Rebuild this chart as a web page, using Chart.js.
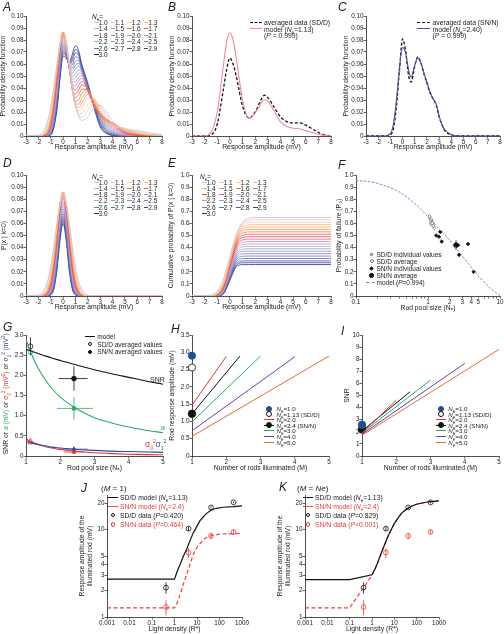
<!DOCTYPE html>
<html>
<head>
<meta charset="utf-8">
<script src="https://cdn.jsdelivr.net/npm/chart.js@4.4.1/dist/chart.umd.min.js"></script>
<style>
  body { margin: 0; width: 504px; height: 634px; position: relative; overflow: hidden; background: #fff;
         font-family: "Liberation Sans", Arial, sans-serif; color: #222; }
  canvas { position: absolute; }
  .tx { position: absolute; white-space: nowrap; font-size: 6.5px; line-height: 7px; }
  .pl { position: absolute; font-style: italic; font-size: 12px; line-height: 12px; }
  .sw { position: absolute; height: 0; }
  .mk { position: absolute; box-sizing: border-box; }
  sub, sup { line-height: 0; }
</style>
</head>
<body>
<script>
const FONT = '"Liberation Sans", Arial, sans-serif';

// ---- Nₑ family (panels A, D, E) ----
const neLabels = ['1.0','1.1','1.2','1.3','1.4','1.5','1.6','1.7','1.8','1.9','2.0','2.1','2.2','2.3','2.4','2.5','2.6','2.7','2.8','2.9','3.0'];
const neColors = ['#c6bedc','#f5c2c8','#f8cfa6','#f6b97e','#f4a45e','#f18f4a','#ec7840','#e5603f','#de4b55','#dc5f86','#de82ae',
                  '#c496c6','#a9a6d4','#999bcd','#8a8fc6','#7b83bf','#6c75b6','#5d66ab','#4d559f','#3d4493','#2c3282'];

// A: probability density function of responses
const xA = [-3,-2,-1.5,-1,-0.5,-0.25,0,0.25,0.5,0.75,1,1.25,1.5,2,2.5,3,3.5,4,5,6,7,8];
const pdfA = [
  [0,.0007,.0055,.0243,.0594,.0742,.0801,.0745,.0600,.0423,.0269,.0170,.0129,.0161,.0232,.0254,.0203,.0124,.0049,.0045,.0025,.0011],
  [0,.0004,.0041,.0217,.0588,.0754,.0822,.0759,.0599,.0410,.0259,.0175,.0154,.0215,.0276,.0255,.0171,.0096,.0057,.0043,.0018,.0009],
  [0,.0002,.0029,.0189,.0579,.0765,.0843,.0772,.0596,.0397,.0252,.0187,.0187,.0269,.0304,.0238,.0140,.0084,.0064,.0034,.0013,.0007],
  [0,.0001,.0022,.0167,.0566,.0768,.0855,.0779,.0591,.0390,.0257,.0211,.0230,.0315,.0312,.0214,.0123,.0087,.0064,.0026,.0011,.0004],
  [0,0,.0015,.0144,.0550,.0769,.0866,.0784,.0584,.0382,.0261,.0236,.0270,.0349,.0305,.0190,.0116,.0096,.0058,.0020,.0008,.0002],
  [0,0,.0011,.0126,.0532,.0763,.0868,.0782,.0575,.0376,.0271,.0264,.0310,.0372,.0293,.0174,.0119,.0105,.0051,.0017,.0006,.0001],
  [0,0,.0009,.0113,.0513,.0750,.0860,.0775,.0569,.0381,.0294,.0301,.0352,.0385,.0276,.0167,.0129,.0109,.0041,.0014,.0004,0],
  [0,0,.0007,.0100,.0494,.0735,.0853,.0768,.0566,.0389,.0320,.0343,.0391,.0390,.0260,.0169,.0138,.0106,.0033,.0011,.0002,0],
  [0,0,.0005,.0087,.0472,.0721,.0847,.0764,.0563,.0399,.0350,.0383,.0425,.0388,.0251,.0175,.0142,.0096,.0027,.0007,.0001,0],
  [0,0,.0004,.0079,.0452,.0700,.0832,.0754,.0564,.0418,.0385,.0421,.0454,.0384,.0247,.0183,.0140,.0085,.0022,.0005,0,0],
  [0,0,.0003,.0067,.0430,.0694,.0827,.0750,.0564,.0431,.0417,.0459,.0481,.0380,.0248,.0189,.0134,.0072,.0017,.0003,0,0],
  [0,0,.0002,.0059,.0412,.0675,.0812,.0741,.0566,.0455,.0451,.0492,.0501,.0378,.0255,.0194,.0123,.0061,.0013,.0002,0,0],
  [0,0,.0002,.0051,.0391,.0655,.0797,.0733,.0569,.0475,.0484,.0523,.0516,.0373,.0261,.0191,.0109,.0050,.0009,.0001,0,0],
  [0,0,.0001,.0044,.0370,.0634,.0783,.0724,.0576,.0499,.0519,.0552,.0530,.0375,.0267,.0185,.0096,.0042,.0006,0,0,0],
  [0,0,.0001,.0037,.0346,.0614,.0769,.0717,.0583,.0525,.0557,.0582,.0543,.0374,.0267,.0169,.0080,.0033,.0004,0,0,0],
  [0,0,.0001,.0030,.0323,.0592,.0753,.0707,.0587,.0550,.0590,.0607,.0553,.0379,.0270,.0155,.0065,.0025,.0002,0,0,0],
  [0,0,0,.0024,.0299,.0569,.0736,.0694,.0586,.0570,.0622,.0631,.0561,.0386,.0271,.0140,.0053,.0019,.0001,0,0,0],
  [0,0,0,.0019,.0275,.0546,.0718,.0681,.0587,.0595,.0658,.0651,.0569,.0394,.0267,.0122,.0041,.0014,.0001,0,0,0],
  [0,0,0,.0014,.0250,.0521,.0702,.0670,.0594,.0625,.0692,.0674,.0577,.0404,.0257,.0104,.0034,.0010,0,0,0,0],
  [0,0,0,.0011,.0233,.0501,.0685,.0661,.0603,.0653,.0720,.0693,.0590,.0421,.0250,.0091,.0027,.0007,0,0,0,0],
  [0,0,0,.0009,.0214,.0479,.0666,.0650,.0611,.0683,.0753,.0712,.0604,.0441,.0239,.0075,.0021,.0005,0,0,0,0]
];

// D: failure distribution P(x | k=0)
const xD = [-3,-2,-1.5,-1.25,-1,-0.75,-0.5,-0.25,0,0.25,0.5,0.75,1,1.25,1.5,2,3,8];
const pdfD = [
  [0,.0007,.0055,.0125,.0243,.0410,.0594,.0742,.0800,.0742,.0594,.0410,.0243,.0125,.0055,.0007,0,0],
  [0,.0004,.0041,.0103,.0217,.0388,.0588,.0754,.0820,.0754,.0588,.0388,.0217,.0103,.0041,.0004,0,0],
  [0,.0002,.0029,.0082,.0189,.0363,.0579,.0765,.0840,.0765,.0579,.0363,.0189,.0082,.0029,.0002,0,0],
  [0,.0001,.0022,.0067,.0167,.0340,.0566,.0768,.0850,.0768,.0566,.0340,.0167,.0067,.0022,.0001,0,0],
  [0,0,.0015,.0053,.0144,.0315,.0550,.0769,.0860,.0769,.0550,.0315,.0144,.0053,.0015,0,0,0],
  [0,0,.0011,.0043,.0126,.0292,.0532,.0763,.0860,.0763,.0532,.0292,.0126,.0043,.0011,0,0,0],
  [0,0,.0009,.0036,.0113,.0274,.0513,.0750,.0850,.0750,.0513,.0274,.0113,.0036,.0009,0,0,0],
  [0,0,.0007,.0030,.0100,.0254,.0494,.0735,.0840,.0735,.0494,.0254,.0100,.0030,.0007,0,0,0],
  [0,0,.0005,.0025,.0087,.0233,.0472,.0721,.0830,.0721,.0472,.0233,.0087,.0025,.0005,0,0,0],
  [0,0,.0004,.0021,.0079,.0218,.0452,.0700,.0810,.0700,.0452,.0218,.0079,.0021,.0004,0,0,0],
  [0,0,.0003,.0017,.0067,.0198,.0430,.0685,.0800,.0685,.0430,.0198,.0067,.0017,.0003,0,0,0],
  [0,0,.0002,.0014,.0059,.0183,.0409,.0664,.0780,.0664,.0409,.0183,.0059,.0014,.0002,0,0,0],
  [0,0,.0002,.0011,.0051,.0166,.0387,.0642,.0760,.0642,.0387,.0166,.0051,.0011,.0002,0,0,0],
  [0,0,.0001,.0009,.0044,.0152,.0366,.0620,.0740,.0620,.0366,.0152,.0044,.0009,.0001,0,0,0],
  [0,0,.0001,.0007,.0037,.0135,.0342,.0598,.0720,.0598,.0342,.0135,.0037,.0007,.0001,0,0,0],
  [0,0,.0001,.0005,.0030,.0120,.0319,.0575,.0700,.0575,.0319,.0120,.0030,.0005,.0001,0,0,0],
  [0,0,0,.0004,.0024,.0104,.0295,.0552,.0680,.0552,.0295,.0104,.0024,.0004,0,0,0,0],
  [0,0,0,.0003,.0019,.0089,.0271,.0529,.0660,.0529,.0271,.0089,.0019,.0003,0,0,0,0],
  [0,0,0,.0002,.0014,.0075,.0246,.0504,.0640,.0504,.0246,.0075,.0014,.0002,0,0,0,0],
  [0,0,0,.0001,.0011,.0066,.0229,.0483,.0620,.0483,.0229,.0066,.0011,.0001,0,0,0,0],
  [0,0,0,.0001,.0009,.0057,.0211,.0462,.0600,.0462,.0211,.0057,.0009,.0001,0,0,0,0]
];

// E: cumulative probability of P(x | k=0)
const xE = [-3,-2,-1.5,-1,-0.5,0,0.5,1,1.5,2,8];
const cumE = [
  [0,.0007,.0068,.0399,.1430,.325,.507,.610,.643,.649,.65],
  [0,.0004,.0045,.0325,.1305,.315,.4996,.5975,.6255,.6296,.63],
  [0,.0002,.0029,.0257,.1183,.305,.4917,.5843,.6071,.6098,.61],
  [0,.0001,.0020,.0209,.1082,.295,.4818,.5691,.5880,.59,.59],
  [0,0,.0013,.0168,.0982,.285,.4718,.5532,.5687,.57,.57],
  [0,0,.0009,.0138,.0899,.275,.4601,.5363,.5491,.55,.55],
  [0,0,.0007,.0118,.0836,.265,.4464,.5182,.5293,.53,.53],
  [0,0,.0005,.0100,.0772,.255,.4328,.5000,.5095,.51,.51],
  [0,0,.0003,.0083,.0709,.245,.4191,.4817,.4897,.49,.49],
  [0,0,.0003,.0072,.0658,.235,.4042,.4628,.4697,.47,.47],
  [0,0,.0002,.0058,.0597,.225,.3903,.4442,.4498,.45,.45],
  [0,0,.0001,.0050,.0550,.215,.3750,.4250,.4299,.43,.43],
  [0,0,.0001,.0041,.0502,.205,.3598,.4059,.4099,.41,.41],
  [0,0,0,.0034,.0458,.195,.3442,.3866,.39,.39,.39],
  [0,0,0,.0027,.0411,.185,.3289,.3673,.37,.37,.37],
  [0,0,0,.0021,.0368,.175,.3132,.3479,.35,.35,.35],
  [0,0,0,.0016,.0324,.165,.2976,.3284,.33,.33,.33],
  [0,0,0,.0012,.0283,.155,.2817,.3088,.31,.31,.31],
  [0,0,0,.0008,.0243,.145,.2657,.2892,.29,.29,.29],
  [0,0,0,.0007,.0217,.1375,.2533,.2743,.275,.275,.275],
  [0,0,0,.0005,.0193,.130,.2407,.2595,.26,.26,.26]
];

// B: SD/D averaged data vs model (Ne = 1.13)
const xB = [-3,-2,-1.5,-1,-0.5,-0.25,0,0.25,0.5,1,1.5,2,2.5,2.75,3,3.5,4,4.5,5,5.5,6,6.5,7,7.5,8];
const dataB = [0,0,.001,.010,.040,.056,.065,.060,.050,.025,.015,.020,.031,.034,.032,.024,.016,.012,.011,.011,.009,.006,.003,.001,0];
const modelB = [0,0,.003,.020,.060,.079,.086,.080,.065,.030,.0145,.019,.028,.030,.029,.021,.012,.008,.0065,.006,.0045,.003,.0015,.0005,0];

// C: SN/N averaged data vs model (Ne = 2.40)
const xC = [-3,-1.5,-1,-0.75,-0.5,-0.25,0,0.25,0.5,0.7,1,1.25,1.5,1.75,2,2.25,2.5,2.75,3,3.25,3.5,4,4.5,8];
const dataC = [0,0,.001,.006,.025,.055,.081,.071,.050,.045,.058,.066,.061,.052,.044,.036,.031,.026,.016,.009,.004,.001,0,0];
const modelC = [0,0,.002,.010,.030,.057,.074,.069,.055,.049,.059,.065,.061,.053,.045,.037,.031,.027,.017,.009,.005,.001,0,0];

// F: probability of failure vs rod pool size
const fModelX = [0.1,0.15,0.2,0.3,0.4,0.5,0.7,1,1.5,2,2.5,3,4,5,6,7,8,10];
const fModelY = [0.955,0.945,0.93,0.895,0.86,0.82,0.75,0.655,0.54,0.46,0.39,0.33,0.235,0.165,0.115,0.075,0.045,0.005];
const fSdX = [1.05,1.08,1.10,1.12,1.15,1.18,1.22];
const fSdY = [0.66,0.64,0.62,0.63,0.60,0.58,0.56];
const fSdAvg = [1.13, 0.60];
const fSnX = [1.30,1.42,1.48,1.55,2.45,2.60,2.70,3.60,4.30];
const fSnY = [0.50,0.49,0.53,0.45,0.42,0.42,0.34,0.43,0.20];
const fSnAvg = [2.45, 0.42];
const fSnAvgErrX = [2.2, 2.75];
const fSnAvgErrY = 0.04;

// G: model parameters vs pool size
const gX = [1,1.25,1.5,1.75,2,2.5,3,3.5,4,4.5,5];
const gSNR = [2.65,2.57,2.50,2.43,2.37,2.25,2.14,2.04,1.95,1.86,1.78];
const gA = [2.88,2.35,1.97,1.68,1.46,1.16,0.95,0.82,0.72,0.64,0.58];
const gS0 = [0.42,0.32,0.25,0.20,0.16,0.11,0.08,0.06,0.045,0.035,0.03];
const gS1 = [0.36,0.30,0.26,0.22,0.20,0.16,0.14,0.12,0.11,0.10,0.09];
const gSdX = 1.13;
const gSdVals = [2.72, 2.58, 0.38, 0.33];   // SNR, a, σ0², σ1²
const gSdErr = [0.22, 0, 0, 0];
const gSnX = 2.4;
const gSnVals = [1.92, 1.18, 0.10, 0.17];
const gSnErrY = [0.30, 0.28, 0, 0];
const gSnErrX = [[1.95,2.8],[1.9,2.95],[2.1,2.7],[1.95,2.8]];

// H and I: response and SNR vs number of rods illuminated
const hNe = ['2.0','2.4','3.0','4.0','5.0'];
const hEndX = [2, 2.4, 3, 4, 5];
const hStartY = [1.47, 1.22, 0.99, 0.73, 0.57];
const hEndY = [2.88, 2.89, 2.89, 2.87, 2.89];
const iStartY = [1.90, 2.07, 1.90, 1.80, 1.71];
const iEndY = [4.61, 5.30, 6.27, 7.65, 8.81];
const lineColors = ['#e3342f', '#111111', '#2fa866', '#5b45a8', '#e8673a'];
const hDots = [2.90, 2.56, 1.22];   // Ne=1.0, Ne=1.13, Ne=2.4 at M=1
const iDots = [2.60, 2.54, 2.20];

// J and K: response amplitude vs light density
const jSdX = [0.001,1,1.3,1.75,2.5,3.4,5,6.8,10,13.4,20,26,40,72,150,400,1000];
const jSdY = [2.72,2.72,3.3,3.96,5.0,5.9,7.6,9.2,11.0,12.6,14.2,15.3,16.6,17.6,18.1,18.4,18.8];
const jSnX = [0.001,1,1.3,1.75,2.5,3.4,5,6.8,10,19,30,52,100,200,1000];
const jSnY = [1.27,1.27,1.45,1.78,2.4,3.04,4.1,5.17,6.3,7.7,8.3,8.66,8.9,8.97,9.07];
const kX = [0.001,0.1,1,1.4,1.88,2.6,3.7,5.2,7.4,10,14.7,22,34.5,60,97,300,1000];
const kSdY = [2.68,2.68,3.05,3.6,4.33,5.4,6.76,8.4,10.1,11.8,13.7,15.6,17.2,18.6,19.6,20.8,21.4];
const kSnY = [1.27,1.27,3.0,3.6,4.33,5.4,6.76,8.4,10.1,11.8,13.7,15.6,17.2,18.6,19.6,20.8,21.4];
const lightX = [0.42, 4.2, 42, 420];
const sdData = [2.17, 10.3, 18.0, 20.6];
const sdErr = [0.32, 0.6, 0.5, 0.5];
const snData = [1.30, 5.46, 8.5, 9.4];
const snErr = [0.26, 0.7, 0.7, 0.6];

// tick sets
const pdfXT = [-3,-2,-1,0,1,2,3,4,5,6,7,8];
const pdfYT = [0,0.01,0.02,0.03,0.04,0.05,0.06,0.07,0.08,0.09,0.1];
const pdfYL = ['0','0.01','0.02','0.03','0.04','0.05','0.06','0.07','0.08','0.09','0.10'];
const unitYT = [0,0.1,0.2,0.3,0.4,0.5,0.6,0.7,0.8,0.9,1];
const unitYL = ['0','0.1','0.2','0.3','0.4','0.5','0.6','0.7','0.8','0.9','1.0'];
const fXT = [0.1,0.2,0.3,0.4,0.5,0.6,0.7,0.8,0.9,1,2,3,4,5,6,7,8,9,10];
const fXL = ['0.1','','','','','','','','','1','2','3','4','5','','','','','10'];
const rodXT = [1,2,3,4,5];
const gYT = [0,0.5,1,1.5,2,2.5,3];
const gYL = ['0','0.5','1.0','1.5','2.0','2.5','3.0'];
const hYT = [0,0.5,1,1.5,2,2.5,3,3.5];
const hYL = ['0','0.5','1.0','1.5','2.0','2.5','3.0','3.5'];
const iYT = [0,1,2,3,4,5,6,7,8,9,10];
const jXT = [0.001,0.01,0.1,1,10,100,1000];
const jXL = ['0.001','0.01','0.1','1','10','100','1000'];
const jYT = [1,2,3,4,5,10,20];

// ---------- helpers ----------
const INK = '#222';
function axis(type, min, max, ticks, labels, title) {
  return {
    type, min, max,
    afterBuildTicks: s => { s.ticks = ticks.map(v => ({ value: v })); },
    ticks: { font: { family: FONT, size: 6.3 }, color: INK, padding: 0, maxRotation: 0, autoSkip: false,
             callback: (v, i) => labels[i] },
    grid: { drawOnChartArea: false, drawTicks: true, tickLength: 2.5, color: INK, lineWidth: 0.7 },
    border: { display: true, color: INK, width: 0.8 },
    title: title ? { display: true, text: title, font: { family: FONT, size: 6.8 }, color: INK, padding: 0 } : { display: false }
  };
}
function pts(xs, ys) { return ys.map((y, i) => ({ x: xs[i], y })); }
function mk(g, datasets, xs, ys) {
  const cv = document.createElement('canvas');
  const pt = 6, pr = 8;
  cv.width = g.R + pr - g.cl; cv.height = g.B - g.T + pt + g.xh;
  cv.style.left = g.cl + 'px'; cv.style.top = (g.T - pt) + 'px';
  document.body.appendChild(cv);
  xs.afterFit = s => { s.height = g.xh; };
  ys.afterFit = s => { s.width = g.L - g.cl; };
  return new Chart(cv, {
    type: 'line', data: { datasets },
    options: { responsive: false, animation: false, events: [],
      layout: { padding: { top: pt, right: pr, left: 0, bottom: 0 } },
      plugins: { legend: { display: false }, tooltip: { enabled: false } },
      elements: { point: { radius: 0 }, line: { borderWidth: 1 } },
      scales: { x: xs, y: ys } }
  });
}
function family(xs, rows) {
  return rows.map((ys, i) => ({ data: pts(xs, ys), borderColor: neColors[i], borderWidth: 0.8,
    cubicInterpolationMode: 'monotone', pointRadius: 0 }));
}
function line(xs, ys, color, extra) {
  return Object.assign({ data: pts(xs, ys), borderColor: color, borderWidth: 1, pointRadius: 0 }, extra || {});
}
function marks(xs, ys, style, r, fill, stroke) {
  return { data: pts(xs, ys), showLine: false, pointStyle: style, pointRadius: r, clip: false,
    pointBackgroundColor: fill, pointBorderColor: stroke, pointBorderWidth: 0.8 };
}
function vbars(xs, ys, es) {
  const out = [];
  xs.forEach((x, i) => { if (es[i] > 0) out.push({ x, y: ys[i] - es[i] }, { x, y: ys[i] + es[i] }, { x, y: null }); });
  return out;
}
function txt(x, y, html, css) {
  const d = document.createElement('div');
  d.className = 'tx'; d.style.left = x + 'px'; d.style.top = (y - 3.5) + 'px';
  d.innerHTML = html; if (css) d.style.cssText += css;
  document.body.appendChild(d); return d;
}
function swatch(x1, x2, y, color, dash, w) {
  const d = document.createElement('div'); d.className = 'sw';
  w = w || 1;
  d.style.left = x1 + 'px'; d.style.top = (y - w / 2) + 'px'; d.style.width = (x2 - x1) + 'px';
  d.style.borderTop = w + 'px ' + (dash ? 'dashed ' : 'solid ') + color;
  document.body.appendChild(d);
}
function marker(cx, cy, size, fill, stroke, shape) {
  const d = document.createElement('div'); d.className = 'mk';
  d.style.left = (cx - size / 2) + 'px'; d.style.top = (cy - size / 2) + 'px';
  d.style.width = size + 'px'; d.style.height = size + 'px';
  d.style.background = fill; d.style.border = '0.8px solid ' + stroke;
  if (shape === 'circle') d.style.borderRadius = '50%';
  if (shape === 'diamond') d.style.transform = 'rotate(45deg)';
  document.body.appendChild(d);
}
function letter(x, y, s) {
  const d = document.createElement('div'); d.className = 'pl';
  d.style.left = x + 'px'; d.style.top = y + 'px'; d.textContent = s;
  document.body.appendChild(d);
}
const SUBE = '<i>N</i><sub style="font-size:4.5px">e</sub>';
function neLegend(x0, y0, colW, rowH) {
  txt(x0 - 2, y0 - rowH + 0.5, SUBE + '=');
  neLabels.forEach((lab, i) => {
    const cx = x0 + (i % 4) * colW, cy = y0 + Math.floor(i / 4) * rowH;
    swatch(cx, cx + 4.5, cy, neColors[i], false, 1);
    txt(cx + 4.5, cy, lab);
  });
}
const NE = 'N\u2091';

// ---------- A ----------
mk({ L: 26, T: 16, R: 162, B: 136, cl: -1, xh: 15 }, family(xA, pdfA),
   axis('linear', -3, 8, pdfXT, pdfXT.map(String), 'Response amplitude (mV)'),
   axis('linear', 0, 0.1, pdfYT, pdfYL, 'Probability density function'));
neLegend(94, 22.5, 16.6, 6.4);

// ---------- B ----------
mk({ L: 192, T: 16, R: 331, B: 136, cl: 168, xh: 15 },
   [line(xB, modelB, '#f08a96', { cubicInterpolationMode: 'monotone', borderWidth: 1.1 }),
    line(xB, dataB, '#111', { cubicInterpolationMode: 'monotone', borderDash: [3, 2], borderWidth: 1.3 })],
   axis('linear', -3, 8, pdfXT, pdfXT.map(String), 'Response amplitude (mV)'),
   axis('linear', 0, 0.1, pdfYT, pdfYL, 'Probability density function'));
swatch(250, 262, 22.3, '#111', true, 1.3); txt(264, 22.3, 'averaged data (SD/D)', 'font-size:6.8px');
swatch(250, 262, 29, '#f08a96', false, 1.1); txt(264, 29, 'model (' + SUBE + '=1.13)', 'font-size:6.8px');
txt(264, 35.5, '(<i>P</i> = 0.999)', 'font-size:6.8px');

// ---------- C ----------
mk({ L: 366, T: 16, R: 500, B: 136, cl: 342, xh: 15 },
   [line(xC, modelC, '#4d4f9c', { cubicInterpolationMode: 'monotone', borderWidth: 1.1 }),
    line(xC, dataC, '#111', { cubicInterpolationMode: 'monotone', borderDash: [3, 2], borderWidth: 1.3 })],
   axis('linear', -3, 8, pdfXT, pdfXT.map(String), 'Response amplitude (mV)'),
   axis('linear', 0, 0.1, pdfYT, pdfYL, 'Probability density function'));
swatch(417, 430, 22.3, '#111', true, 1.3); txt(432.5, 22.3, 'averaged data (SN/N)', 'font-size:6.8px');
swatch(417, 430, 29, '#4d4f9c', false, 1.1); txt(432.5, 29, 'model (' + SUBE + '=2.40)', 'font-size:6.8px');
txt(432.5, 35.5, '(<i>P</i> = 0.999)', 'font-size:6.8px');

// ---------- D ----------
mk({ L: 26, T: 175, R: 162, B: 296, cl: 0, xh: 15 }, family(xD, pdfD),
   axis('linear', -3, 8, pdfXT, pdfXT.map(String), 'Response amplitude (mV)'),
   axis('linear', 0, 0.1, pdfYT, pdfYL, 'P(x | k=0)'));
neLegend(94, 182, 16.6, 6.3);

// ---------- E ----------
mk({ L: 192, T: 175, R: 331, B: 296, cl: 167, xh: 15 }, family(xE, cumE),
   axis('linear', -3, 8, pdfXT, pdfXT.map(String), 'Response amplitude (mV)'),
   axis('linear', 0, 1, unitYT, unitYL, 'Cumulative probability of P(x | k=0)'));
neLegend(202, 182, 17, 6.3);

// ---------- F ----------
mk({ L: 356, T: 175, R: 500, B: 296, cl: 335, xh: 16 },
   [line(fModelX, fModelY, '#7b87c0', { borderDash: [2.5, 1.5], cubicInterpolationMode: 'monotone' }),
    { data: [{ x: fSnAvgErrX[0], y: fSnAvg[1] }, { x: fSnAvgErrX[1], y: fSnAvg[1] }, { x: fSnAvg[0], y: null },
             { x: fSnAvg[0], y: fSnAvg[1] - fSnAvgErrY }, { x: fSnAvg[0], y: fSnAvg[1] + fSnAvgErrY }],
      borderColor: '#111', borderWidth: 0.8, pointRadius: 0, spanGaps: false },
    marks(fSdX, fSdY, 'rectRot', 1.6, '#fff', '#777'),
    marks([fSdAvg[0]], [fSdAvg[1]], 'circle', 2.2, '#fff', '#777'),
    marks(fSnX, fSnY, 'rectRot', 1.8, '#111', '#111'),
    marks([fSnAvg[0]], [fSnAvg[1]], 'circle', 2.4, '#111', '#111')],
   axis('logarithmic', 0.1, 10, fXT, fXL, 'Rod pool size (' + NE + ')'),
   axis('linear', 0, 1, unitYT, unitYL, 'Probability of failure (P\u2080)'));
marker(371.7, 254.3, 3, '#fff', '#777', 'diamond'); txt(376.5, 254.3, 'SD/D individual values');
marker(371.7, 261.2, 4, '#fff', '#777', 'circle'); txt(376.5, 261.2, 'SD/D average');
marker(371.7, 268.3, 3, '#111', '#111', 'diamond'); txt(376.5, 268.3, 'SN/N individual values');
marker(371.7, 275.6, 4.5, '#111', '#111', 'circle'); txt(376.5, 275.6, 'SN/N average');
swatch(366, 374.5, 282.7, '#7b87c0', true, 1); txt(376.5, 282.7, 'model (<i>P</i>=0.994)');

// ---------- G ----------
const gGreen = '#2faa62', gRed = '#e3302c', gBlue = '#35479a';
mk({ L: 26, T: 335, R: 163, B: 456, cl: 10, xh: 16 },
   [line(gX, gSNR, '#111', { cubicInterpolationMode: 'monotone', borderWidth: 1.1 }),
    line(gX, gA, gGreen, { cubicInterpolationMode: 'monotone', borderWidth: 1.1 }),
    line(gX, gS1, gBlue, { cubicInterpolationMode: 'monotone', borderWidth: 1.1 }),
    line(gX, gS0, gRed, { cubicInterpolationMode: 'monotone', borderWidth: 1.1 }),
    { data: vbars([gSdX], [gSdVals[0]], [gSdErr[0]]), borderColor: '#111', borderWidth: 0.8, pointRadius: 0 },
    { data: vbars([gSnX], [gSnVals[0]], [gSnErrY[0]]).concat([{ x: gSnErrX[0][0], y: gSnVals[0] }, { x: gSnErrX[0][1], y: gSnVals[0] }]),
      borderColor: '#111', borderWidth: 0.8, pointRadius: 0 },
    { data: vbars([gSnX], [gSnVals[1]], [gSnErrY[1]]).concat([{ x: gSnErrX[1][0], y: gSnVals[1] }, { x: gSnErrX[1][1], y: gSnVals[1] }]),
      borderColor: gGreen, borderWidth: 0.8, pointRadius: 0 },
    { data: [{ x: gSnErrX[3][0], y: gSnVals[3] }, { x: gSnErrX[3][1], y: gSnVals[3] }], borderColor: gBlue, borderWidth: 0.8, pointRadius: 0 },
    { data: [{ x: gSnErrX[2][0], y: gSnVals[2] }, { x: gSnErrX[2][1], y: gSnVals[2] }], borderColor: gRed, borderWidth: 0.8, pointRadius: 0 },
    marks([gSdX], [gSdVals[0]], 'circle', 2.4, '#fff', '#111'),
    marks([gSdX], [gSdVals[1]], 'circle', 2.2, '#fff', gGreen),
    marks([gSdX], [gSdVals[2]], 'triangle', 2.4, '#fff', gRed),
    marks([gSdX], [gSdVals[3]], 'triangle', 2.4, '#fff', gBlue),
    marks([gSnX], [gSnVals[0]], 'circle', 2.4, '#111', '#111'),
    marks([gSnX], [gSnVals[1]], 'rect', 2.4, gGreen, gGreen),
    marks([gSnX], [gSnVals[3]], 'triangle', 2.4, gBlue, gBlue),
    marks([gSnX], [gSnVals[2]], 'triangle', 2.4, gRed, gRed)],
   axis('linear', 1, 5, rodXT, rodXT.map(String), 'Rod pool size (' + NE + ')'),
   axis('linear', 0, 3, gYT, gYL, null));
txt(-56, 393, 'SNR or <i style="color:' + gGreen + '">a</i><span style="color:' + gGreen + '"> (mV)</span> or ' +
    '<span style="color:' + gRed + '">σ<sub style="font-size:4.5px">0</sub><sup style="font-size:4.5px">2</sup> (mV<sup style="font-size:4.5px">2</sup>)</span> or ' +
    '<span style="color:' + gBlue + '">σ<sub style="font-size:4.5px">1</sub><sup style="font-size:4.5px">2</sup> (mV<sup style="font-size:4.5px">2</sup>)</span>',
    'width:124px;text-align:center;transform:rotate(-90deg);font-size:6.8px');
txt(150, 379, 'SNR', 'font-size:7px');
txt(160.5, 427, '<i>a</i>', 'font-size:8px;color:' + gGreen);
txt(145, 444, 'σ<sub style="font-size:5px">0</sub><sup style="font-size:5px">2</sup>', 'font-size:8.5px;color:' + gRed);
txt(155.5, 444, 'σ<sub style="font-size:5px">1</sub><sup style="font-size:5px">2</sup>', 'font-size:8.5px;color:' + gBlue);
swatch(85, 95, 336.7, '#111', false, 1.1); txt(97.3, 336.7, 'model');
marker(90, 344.3, 4, '#fff', '#111', 'circle'); txt(97.3, 344.3, 'SD/D averaged values');
marker(90, 351.7, 4, '#111', '#111', 'circle'); txt(97.3, 351.7, 'SN/N averaged values');

// ---------- H and I ----------
function rodLines(startY, endY) {
  return hNe.map((n, i) => line([1, hEndX[i]], [startY[i], endY[i]], lineColors[i], { borderWidth: 1 }));
}
function rodDots(vals) {
  return [marks([1], [vals[0]], 'circle', 3.6, '#1d4f91', '#1d4f91'),
          marks([1], [vals[1]], 'circle', 3.6, '#fff', '#111'),
          marks([1], [vals[2]], 'circle', 3.8, '#111', '#111')];
}
mk({ L: 192, T: 335, R: 329, B: 456, cl: 168, xh: 16 },
   rodLines(hStartY, hEndY).concat(rodDots(hDots)),
   axis('linear', 1, 5, rodXT, rodXT.map(String), 'Number of rods illuminated (M)'),
   axis('linear', 0, 3.5, hYT, hYL, 'Rod response amplitude (mV)'));
mk({ L: 362, T: 335, R: 499, B: 456, cl: 343, xh: 16 },
   rodLines(iStartY, iEndY).concat(rodDots(iDots)),
   axis('linear', 1, 5, rodXT, rodXT.map(String), 'Number of rods illuminated (M)'),
   axis('linear', 0, 10, iYT, iYT.map(String), 'SNR'));
function rodLegend(sx, tx, y0, dy) {
  const css = 'font-size:6.2px';
  marker(sx, y0, 6, '#1d4f91', '#1d4f91', 'circle'); txt(tx, y0, SUBE + '=1.0', css);
  marker(sx, y0 + dy, 6, '#fff', '#111', 'circle'); txt(tx, y0 + dy, SUBE + '=1.13 (SD/D)', css);
  hNe.forEach((n, k) => {
    const y = y0 + dy * (2 + k);
    swatch(sx - 5, sx + 5, y, lineColors[k], false, 1);
    if (k === 1) marker(sx, y, 6, '#111', '#111', 'circle');
    txt(tx, y, SUBE + '=' + n + (k === 1 ? ' (SN/N)' : ''), css);
  });
}
rodLegend(269, 276.5, 408.5, 5.6);
rodLegend(441, 448.3, 408.5, 5.6);

// ---------- J and K ----------
function lightData(sdX, sdY, snX, snY) {
  return [line(sdX, sdY, '#111', { borderWidth: 1.2 }),
          line(snX, snY, '#e8403a', { borderWidth: 1.2, borderDash: [4, 2.5] }),
          { data: vbars(lightX, sdData, sdErr), borderColor: '#111', borderWidth: 0.8, pointRadius: 0 },
          { data: vbars(lightX, snData, snErr), borderColor: '#e8403a', borderWidth: 0.8, pointRadius: 0 },
          marks(lightX, sdData, 'circle', 2.4, '#fff', '#111'),
          marks(lightX, snData, 'circle', 2.4, '#fff', '#e8403a')];
}
const respTitle = ['Response amplitude of the', 'illuminated rod (mV)'];
mk({ L: 107, T: 495, R: 242, B: 617, cl: 78, xh: 16 }, lightData(jSdX, jSdY, jSnX, jSnY),
   axis('logarithmic', 0.001, 1000, jXT, jXL, 'Light density (R*)'),
   axis('logarithmic', 1, 25, jYT, jYT.map(String), respTitle));
mk({ L: 305, T: 495, R: 439, B: 617, cl: 276, xh: 16 }, lightData(kX, kSdY, kX, kSnY),
   axis('logarithmic', 0.001, 1000, jXT, jXL, 'Light density (R*)'),
   axis('logarithmic', 1, 25, jYT, jYT.map(String), respTitle));
function lightLegend(x1, x2, tx, pj, pk) {
  swatch(x1, x2, 497.7, '#111', false, 1.2); txt(tx, 497.7, 'SD/D model (' + SUBE + '=1.13)', 'font-size:6.8px');
  swatch(x1, x2, 506.7, '#e8403a', true, 1.2); txt(tx, 506.7, 'SN/N model (' + SUBE + '=2.4)', 'font-size:6.8px;color:#e8403a');
  marker((x1 + x2) / 2, 515, 4.5, '#fff', '#111', 'circle'); txt(tx, 515, 'SD/D data (<i>P</i>' + pj + ')', 'font-size:6.8px');
  marker((x1 + x2) / 2, 524.3, 4.5, '#fff', '#e8403a', 'circle'); txt(tx, 524.3, 'SN/N data (<i>P</i>' + pk + ')', 'font-size:6.8px;color:#e8403a');
}
lightLegend(108, 118, 120, '=0.420', '=0.464');
lightLegend(303, 313, 315, '=0.829', '<0.001');
txt(101, 488, '(<i>M</i> = 1)', 'font-size:8px');
txt(297, 488, '(<i>M</i> = <i>Ne</i>)', 'font-size:8px');

// ---------- panel letters ----------
letter(3, 1, 'A'); letter(168, 1, 'B'); letter(338, 1, 'C');
letter(3, 157, 'D'); letter(168, 157, 'E'); letter(338, 159, 'F');
letter(3, 321, 'G'); letter(171, 323, 'H'); letter(341, 325, 'I');
letter(81, 482, 'J'); letter(279, 481, 'K');
</script>
</body>
</html>
